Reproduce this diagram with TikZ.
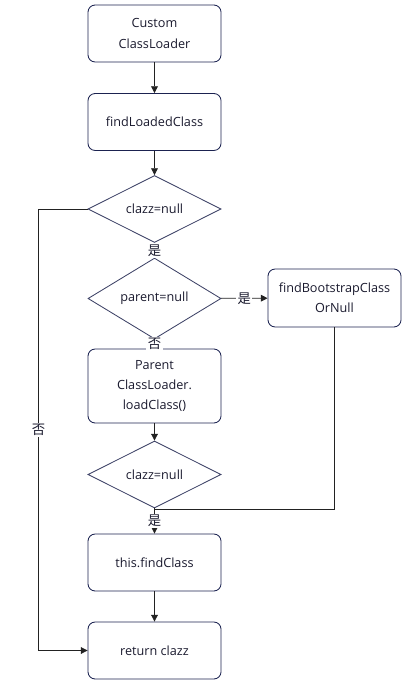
\documentclass[tikz,border=0pt]{standalone}
\usepackage{fontspec}
\setmainfont{Open Sans}
\newfontfamily\cjk{Noto Sans CJK SC}
\usetikzlibrary{shapes.geometric, arrows.meta}
\definecolor{boxline}{HTML}{1B2250}
\definecolor{rhombline}{HTML}{3D4266}
\definecolor{wire}{HTML}{222222}
\definecolor{ink}{HTML}{1A1A2E}

\begin{document}
\begin{tikzpicture}[x=0.025cm, y=-0.025cm,
    font=\fontsize{9}{14.5}\selectfont,
    box/.style={rectangle, rounded corners=1.8mm, draw=boxline, line width=.6pt,
        minimum width=3.325cm, minimum height=1.425cm, align=center, text=ink},
    cond/.style={diamond, draw=rhombline, line width=.6pt, inner sep=0pt,
        minimum width=3.325cm, minimum height=1.45cm, text=ink},
    flow/.style={-{Triangle[length=1.7mm, width=1.7mm]}, draw=wire, line width=.6pt},
    tag/.style={fill=white, inner sep=1pt, text=ink, font=\cjk\fontsize{9.5}{10}\selectfont}]
    \useasboundingbox (0,0) rectangle (412,694);
    % Main column
    \foreach \i/\txt/\y in {1/{Custom\\ClassLoader}/33.5, 2/findLoadedClass/122,
                            4/this.findClass/562.5, 5/return\ clazz/650.5} {
        \node[box] (Box-\i) at (154.5,\y) {\txt};
    }
    \node[box, minimum height=1.85cm] (Box-3) at (154.5,386) {Parent\\ClassLoader.\\loadClass()};
    % Decisions
    \foreach \i/\txt/\y in {1/clazz=null/209, 2/parent=null/298.5, 3/clazz=null/474.5} {
        \node[cond] (Cond-\i) at (154.5,\y) {\txt};
    }
    % Side box
    \node[box, minimum height=1.45cm] (Boot) at (334.5,298) {findBootstrapClass\\OrNull};
    % Arrows
    \draw[flow] (Box-1) -- (Box-2);
    \draw[flow] (Box-2) -- (Cond-1);
    \draw[flow] (Cond-1) -- node[tag] {是} (Cond-2);
    \draw[flow] (Cond-2) -- node[tag] {是} (Boot);
    \draw[flow] (Cond-2) -- node[tag] {否} (Box-3);
    \draw[flow] (Box-3) -- (Cond-3);
    \draw[flow] (Cond-3) -- node[tag] {是} (Box-4);
    \draw[flow] (Box-4) -- (Box-5);
    \draw[flow] (Cond-1.west) -- ++(-49,0) |- node[tag, pos=.25] {否} (Box-5.west);
    \draw[wire, line width=.6pt] (Boot.south) |- ([yshift=-1pt]Cond-3.south);
\end{tikzpicture}
\end{document}
